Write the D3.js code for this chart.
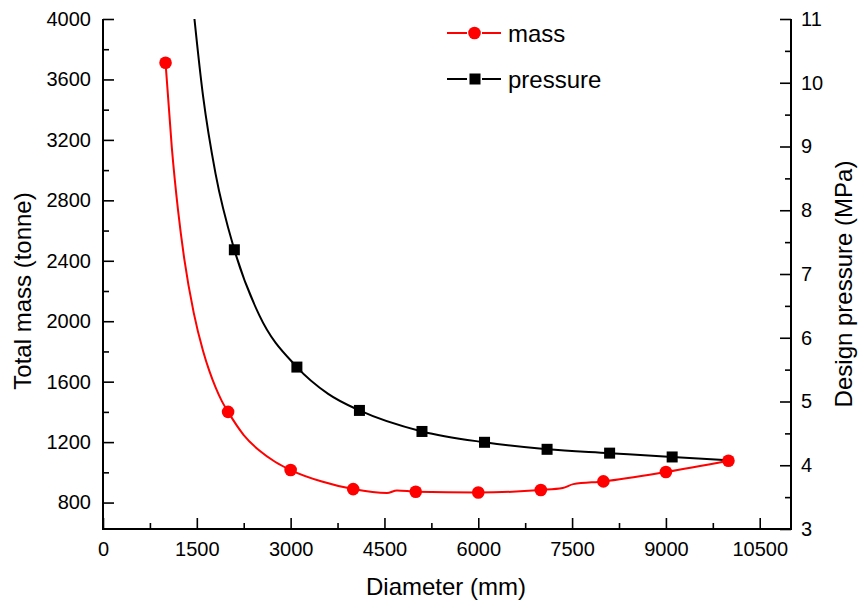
<!DOCTYPE html>
<html>
<head>
<meta charset="utf-8">
<script src="https://cdn.jsdelivr.net/npm/d3@7"></script>
<style>
  html, body { margin: 0; padding: 0; background: #fff; }
  svg { display: block; font-family: "Liberation Sans", Arial, sans-serif; }
</style>
</head>
<body>
<svg id="chart" width="862" height="603"></svg>
<script>
// ---- data ----
const diameters = [1000, 2000, 3000, 4000, 5000, 6000, 7000, 8000, 9000, 10000];
const massValues = [3710, 1400, 1015, 889, 872, 867, 883, 940, 1002, 1077];

const pressureDiameters = [2100, 3100, 4100, 5100, 6100, 7100, 8100, 9100];
const pressureValues = [7.38, 5.54, 4.86, 4.53, 4.36, 4.25, 4.19, 4.13];

// fitted lines
const massCurveD = [1000, 1100, 1200, 1300, 1450, 1600, 1700, 1800, 1900, 2000, 2250, 2500, 2750, 3000, 3500, 4000, 4540, 4700, 5000, 6000, 7000, 7350, 7520, 8000, 9000, 10000];
const massCurveValues = [3710, 3150, 2733, 2411, 2057, 1803, 1671, 1562, 1471, 1400, 1247, 1144, 1070, 1015, 939, 889, 863, 880, 872, 867, 883, 896, 922, 940, 1002, 1077];

const pressureCurveD = [1400, 1600, 1800, 2100, 2500, 3100, 3600, 4100, 5100, 6100, 7100, 8100, 9100, 10000];
const pressureCurveValues = [11.6, 9.79, 8.57, 7.38, 6.35, 5.54, 5.12, 4.86, 4.53, 4.36, 4.25, 4.19, 4.13, 4.08];

const xTicks = [0, 1500, 3000, 4500, 6000, 7500, 9000, 10500];
const xMinorTicks = [750, 2250, 3750, 5250, 6750, 8250, 9750];
const massTicks = [800, 1200, 1600, 2000, 2400, 2800, 3200, 3600, 4000];
const massMinorTicks = [1000, 1400, 1800, 2200, 2600, 3000, 3400, 3800];
const pressureTicks = [3, 4, 5, 6, 7, 8, 9, 10, 11];
const pressureMinorTicks = [3.5, 4.5, 5.5, 6.5, 7.5, 8.5, 9.5, 10.5];

const seriesNames = ["mass", "pressure"];
const axisTitles = { x: "Diameter (mm)", yLeft: "Total mass (tonne)", yRight: "Design pressure (MPa)" };

// ---- layout ----
const pL = 103, pR = 791, pT = 19, pB = 529;
const svg = d3.select("#chart");

const x = d3.scaleLinear().domain([0, 11000]).range([pL, pR]);
const yM = d3.scaleLinear().domain([625, 4000]).range([pB, pT]);
const yP = d3.scaleLinear().domain([3, 11]).range([pB, pT]);

svg.append("defs").append("clipPath").attr("id", "clip")
  .append("rect").attr("x", pL).attr("y", pT).attr("width", pR - pL).attr("height", pB - pT);

// ---- lines ----
const massLine = d3.line().x((d, i) => x(massCurveD[i])).y(d => yM(d)).curve(d3.curveMonotoneX);
const pressLine = d3.line().x((d, i) => x(pressureCurveD[i])).y(d => yP(d)).curve(d3.curveMonotoneX);

const plot = svg.append("g").attr("clip-path", "url(#clip)");
plot.append("path").datum(pressureCurveValues).attr("d", pressLine)
  .attr("fill", "none").attr("stroke", "#000").attr("stroke-width", 2);
plot.append("path").datum(massCurveValues).attr("d", massLine)
  .attr("fill", "none").attr("stroke", "#ff0000").attr("stroke-width", 2);

// markers
svg.append("g").selectAll("rect").data(pressureValues).join("rect")
  .attr("x", (d, i) => x(pressureDiameters[i]) - 5.5)
  .attr("y", d => yP(d) - 5.5)
  .attr("width", 11).attr("height", 11).attr("fill", "#000");
svg.append("g").selectAll("circle").data(massValues).join("circle")
  .attr("cx", (d, i) => x(diameters[i]))
  .attr("cy", d => yM(d))
  .attr("r", 6.3).attr("fill", "#ff0000");

// ---- axes ----
function styleAxis(g) {
  g.selectAll("path.domain").attr("stroke", "#000").attr("stroke-width", 2);
  g.selectAll(".tick line").attr("stroke", "#000").attr("stroke-width", 1.6);
  g.selectAll(".tick text").attr("fill", "#000").attr("font-size", 20)
    .attr("font-family", "Liberation Sans, Arial, sans-serif");
}

const gx = svg.append("g").attr("transform", `translate(0,${pB})`)
  .call(d3.axisBottom(x).tickValues(xTicks).tickSizeInner(-11).tickSizeOuter(0).tickPadding(13).tickFormat(d3.format("d")));
styleAxis(gx);
gx.select("path.domain").attr("d", `M${pL - 1},0H${pR + 1}`);
const gxm = svg.append("g").attr("transform", `translate(0,${pB})`)
  .call(d3.axisBottom(x).tickValues(xMinorTicks).tickSizeInner(-6).tickSizeOuter(0).tickFormat(() => ""));
gxm.select("path.domain").remove();
styleAxis(gxm);

const gl = svg.append("g").attr("transform", `translate(${pL},0)`)
  .call(d3.axisLeft(yM).tickValues(massTicks).tickSizeInner(-11).tickSizeOuter(0).tickPadding(12).tickFormat(d3.format("d")));
styleAxis(gl);
gl.select("path.domain").attr("d", `M0,${pT}V${pB + 1}`);
const glm = svg.append("g").attr("transform", `translate(${pL},0)`)
  .call(d3.axisLeft(yM).tickValues(massMinorTicks).tickSizeInner(-6).tickSizeOuter(0).tickFormat(() => ""));
glm.select("path.domain").remove();
styleAxis(glm);

const gr = svg.append("g").attr("transform", `translate(${pR},0)`)
  .call(d3.axisRight(yP).tickValues(pressureTicks).tickSizeInner(-11).tickSizeOuter(0).tickPadding(10).tickFormat(d3.format("d")));
styleAxis(gr);
gr.select("path.domain").attr("d", `M0,${pT}V${pB + 1}`);
const grm = svg.append("g").attr("transform", `translate(${pR},0)`)
  .call(d3.axisRight(yP).tickValues(pressureMinorTicks).tickSizeInner(-6).tickSizeOuter(0).tickFormat(() => ""));
grm.select("path.domain").remove();
styleAxis(grm);

// ---- axis titles ----
svg.append("text").attr("x", 446).attr("y", 595).attr("text-anchor", "middle")
  .attr("font-size", 24).attr("fill", "#000").text(axisTitles.x);
svg.append("text").attr("transform", "translate(31,291) rotate(-90)").attr("text-anchor", "middle")
  .attr("font-size", 24).attr("fill", "#000").text(axisTitles.yLeft);
svg.append("text").attr("transform", "translate(852,284) rotate(-90)").attr("text-anchor", "middle")
  .attr("font-size", 24).attr("fill", "#000").text(axisTitles.yRight);

// ---- legend ----
const legend = svg.append("g");
const legY = [33, 79];
const legColors = ["#ff0000", "#000"];
seriesNames.forEach((name, i) => {
  const g = legend.append("g");
  g.append("line").attr("x1", 447).attr("x2", 467).attr("y1", legY[i]).attr("y2", legY[i])
    .attr("stroke", legColors[i]).attr("stroke-width", 2);
  g.append("line").attr("x1", 482).attr("x2", 501).attr("y1", legY[i]).attr("y2", legY[i])
    .attr("stroke", legColors[i]).attr("stroke-width", 2);
  if (i === 0) {
    g.append("circle").attr("cx", 474.5).attr("cy", legY[i]).attr("r", 6.3).attr("fill", legColors[i]);
  } else {
    g.append("rect").attr("x", 469.5).attr("y", legY[i] - 5.5).attr("width", 11).attr("height", 11).attr("fill", legColors[i]);
  }
  g.append("text").attr("x", 508).attr("y", legY[i] + 8.5).attr("font-size", 24).attr("fill", "#000").text(name);
});
</script>
</body>
</html>
